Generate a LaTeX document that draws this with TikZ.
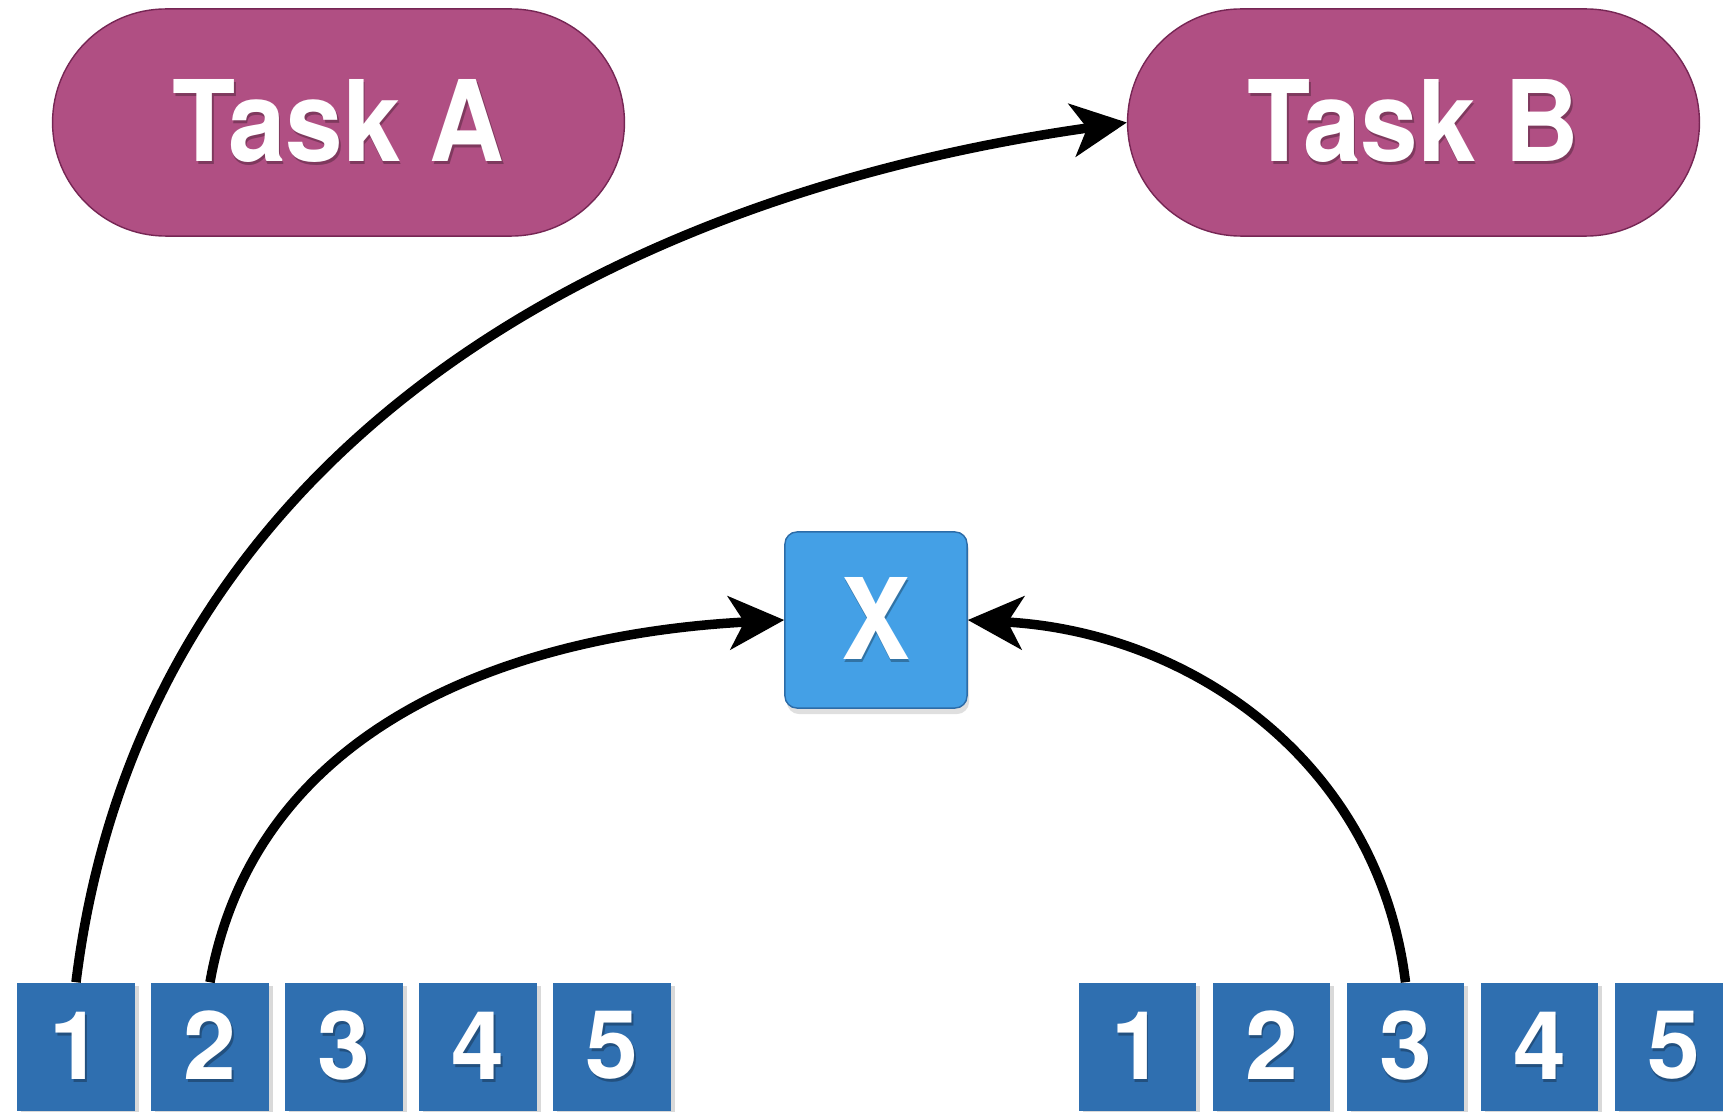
\documentclass[tikz,border=0pt]{standalone}
\usepackage{fontspec}
\setmainfont{TeX Gyre Heros}
\newfontfamily\headfont{TeX Gyre Heros}[FakeStretch=0.92]
\usetikzlibrary{arrows.meta,positioning,shapes.misc,shadows}
\definecolor{taskpink}{RGB}{176,79,131}
\definecolor{taskedge}{RGB}{118,38,84}
\definecolor{xblue}{RGB}{68,160,230}
\definecolor{xedge}{RGB}{44,108,168}
\definecolor{slotblue}{RGB}{47,111,176}
% white label with a small dark offset copy behind it
\newcommand{\shtxt}[2]{\makebox[0pt][l]{\hspace{0.015cm}\raisebox{-0.03cm}{\color{#1}#2}}#2}

\begin{document}
\begin{tikzpicture}[x=0.01cm, y=0.01cm,
      task/.style={rounded rectangle, draw=taskedge, fill=taskpink,
                   minimum width=5.95cm, minimum height=2.27cm, text=white,
                   font=\headfont\bfseries\fontsize{32}{32}\selectfont},
      xbox/.style={rectangle, rounded corners=0.12cm, draw=xedge, fill=xblue,
                   minimum width=1.82cm, minimum height=1.76cm, text=white,
                   font=\headfont\bfseries\fontsize{32}{32}\selectfont,
                   drop shadow={shadow xshift=0.02cm, shadow yshift=-0.06cm, opacity=0.25}},
      slot/.style={rectangle, fill=slotblue, minimum width=1.17cm,
                   minimum height=1.28cm, inner sep=0pt, text=white,
                   font=\bfseries\fontsize{27}{27}\selectfont,
                   drop shadow={shadow xshift=0.04cm, shadow yshift=-0.03cm, opacity=0.3}},
      link/.style={line width=0.095cm,
                   -{Stealth[length=0.55cm, width=0.53cm, inset=0.15cm]}}]
    \useasboundingbox (0,0) rectangle (1723,1111);
    % the two tasks
    \node[task] (taskA) at (338.5,988.5) {\shtxt{taskpink!72!black}{Task A}};
    \node[task] (taskB) at (1413.5,988.5) {\shtxt{taskpink!72!black}{Task B}};
    % shared variable
    \node[xbox] (xbox) at (876,491) {\shtxt{xblue!72!black}{X}};
    % instruction slots of each task
    \foreach \i in {1,...,5}{
      \node[slot] (l\i) at ({76+134*(\i-1)},64) {\shtxt{slotblue!72!black}{\i}};
      \node[slot] (r\i) at ({1137.5+134*(\i-1)},64) {\shtxt{slotblue!72!black}{\i}};
    }
    % accesses
    \draw[link] (l1.north) to[out=83, in=188] (taskB.west);
    \draw[link] (l2.north) to[out=80, in=183] (xbox.west);
    \draw[link] (r3.north) to[out=97, in=-3] (xbox.east);
  \end{tikzpicture}
\end{document}
